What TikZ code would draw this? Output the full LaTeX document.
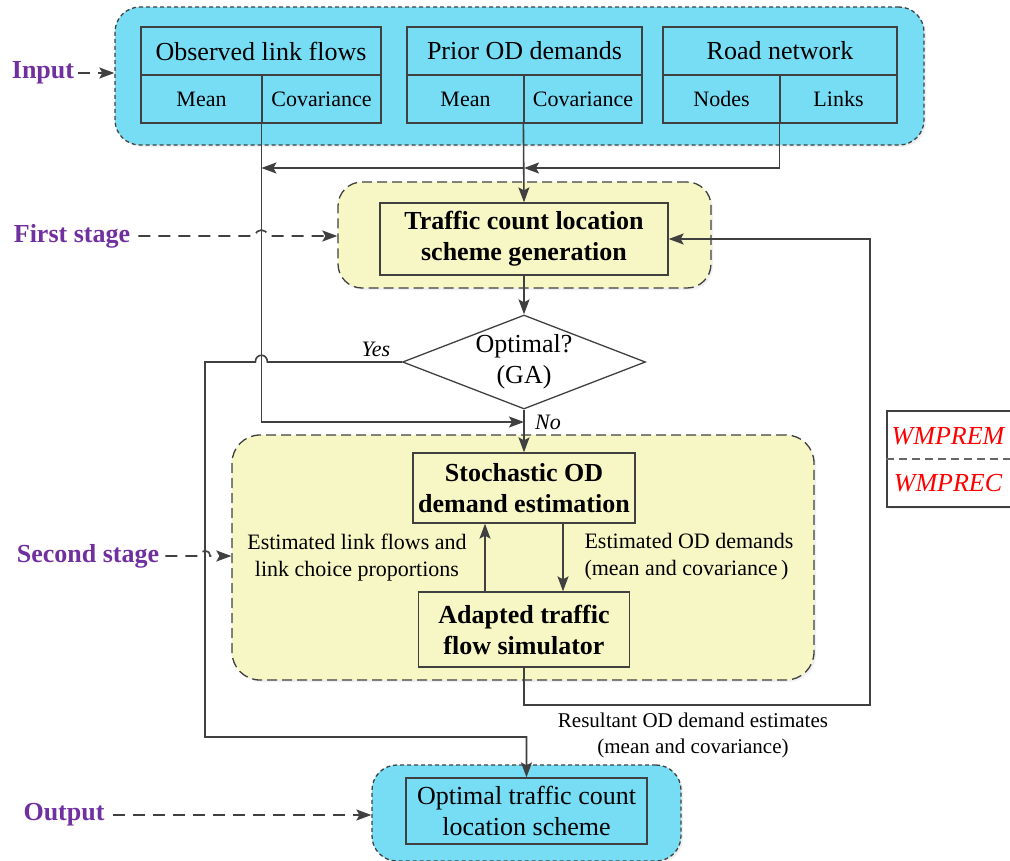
\documentclass[tikz,border=0pt]{standalone}
\usepackage{fontspec}
\setmainfont{Liberation Serif}
\usetikzlibrary{shapes.geometric,arrows.meta,calc,shadows}
\definecolor{cy}{RGB}{118,221,245}
\definecolor{yl}{RGB}{247,247,198}
\definecolor{pu}{RGB}{112,48,160}
\definecolor{ln}{RGB}{64,64,64}
\definecolor{rd}{RGB}{255,0,0}
\tikzset{
  tip/.style={-{Stealth[length=15pt,width=11pt,inset=3pt]}},
  con/.style={draw=ln,line width=1.6pt},
  arr/.style={con,tip},
  dasharr/.style={draw=ln,line width=1.6pt,dash pattern=on 12pt off 8pt,tip},
  shd/.style={drop shadow={shadow xshift=2pt,shadow yshift=-2pt,opacity=0.12}},
  grp/.style={draw=ln,line width=1.3pt,inner sep=0pt,shd},
  cell/.style={draw=ln,line width=1.2pt,fill=cy,inner sep=0pt,minimum height=48},
  big/.style={font=\fontsize{26}{31}\selectfont},
  small/.style={font=\fontsize{22}{27}\selectfont},
  bbox/.style={draw=ln,line width=1.3pt,fill=yl,inner sep=0pt,align=center,font=\fontsize{26}{31}\selectfont\bfseries},
  lab/.style={text=pu,font=\fontsize{26}{31}\selectfont\bfseries,inner sep=0pt},
  dia/.style={diamond,draw=ln,line width=1.3pt,fill=white,inner sep=0pt,minimum width=243,minimum height=94},
  leg/.style={text=rd,font=\fontsize{26}{31}\selectfont\itshape}
}
\begin{document}
\begin{tikzpicture}[x=1pt,y=-1pt]
\useasboundingbox (0,0) rectangle (1010,860);

% group backgrounds
\node[grp,fill=cy,dash pattern=on 4pt off 3pt,minimum width=809,minimum height=138,rounded corners=25] (inbg) at (519.5,76) {};
\node[grp,fill=yl,dash pattern=on 10pt off 5pt,minimum width=373,minimum height=106,rounded corners=24] (fsbg) at (524.5,235) {};
\node[grp,fill=yl,dash pattern=on 10pt off 5pt,minimum width=582,minimum height=245,rounded corners=28] (ssbg) at (523,557.5) {};
\node[grp,fill=cy,dash pattern=on 4pt off 3pt,minimum width=309,minimum height=96,rounded corners=25] (outbg) at (526.5,813) {};

% input cells
\node[cell,big,minimum width=240] (olf) at (261,51) {Observed link flows};
\node[cell,small,minimum width=121] (olfm) at (201.5,99) {Mean};
\node[cell,small,minimum width=119] (olfc) at (321.5,99) {Covariance};
\node[cell,big,minimum width=235] (pd) at (524.5,51) {Prior OD demands};
\node[cell,small,minimum width=117] (pdm) at (465.5,99) {Mean};
\node[cell,small,minimum width=118] (pdc) at (583,99) {Covariance};
\node[cell,big,minimum width=234] (rn) at (780,51) {Road network};
\node[cell,small,minimum width=117] (rnn) at (721.5,99) {Nodes};
\node[cell,small,minimum width=117] (rnl) at (838.5,99) {Links};

% process boxes
\node[bbox,minimum width=288,minimum height=72] (tcl) at (524,239) {Traffic count location\\scheme generation};
\node[dia] (opt) at (524,362) {};
\node[big,align=center] (optt) at (opt.center) {Optimal?\\(GA)};
\node[bbox,minimum width=222,minimum height=70] (sode) at (524,488) {Stochastic OD\\demand estimation};
\node[bbox,minimum width=211,minimum height=75] (atfs) at (524,629.5) {Adapted traffic\\flow simulator};
\node[draw=ln,line width=1.3pt,fill=cy,inner sep=0pt,minimum width=241,minimum height=66,align=center,big] (out) at (526.5,811) {Optimal traffic count\\location scheme};

% side labels
\node[lab] (inlab) at (43,73) {Input};
\node[lab] (fslab) at (72,236) {First stage};
\node[lab] (sslab) at (88,556) {Second stage};
\node[lab] (outlab) at (64,815) {Output};

% text labels
\node[small,font=\fontsize{22}{27}\selectfont\itshape] (yes) at (376,349) {Yes};
\node[small,font=\fontsize{22}{27}\selectfont\itshape] (no) at (548,422) {No};
\node[small,align=center] (elf) at (357,558) {Estimated link flows and\\link choice proportions};
\node[small,align=left,anchor=west] (eod) at (581,557) {Estimated OD demands\\(mean and covariance\,)};
\node[font=\fontsize{21}{26}\selectfont,align=center] (res) at (693,735) {Resultant OD demand estimates\\(mean and covariance)};

% legend
\node[draw=ln,line width=1.5pt,fill=white,inner sep=0pt,minimum width=130,minimum height=96,shd] (lg) at (952,459) {};
\draw[draw=ln!80,line width=1.3pt,dash pattern=on 8pt off 5pt] (lg.west) -- (lg.east);
\node[leg] (l1) at (948,436) {WMPREM};
\node[leg] (l2) at (948,483) {WMPREC};

% coordinates
\coordinate (rj) at (524,168);
\coordinate (nj) at (524,422);
\coordinate (yc) at (205,737);
\coordinate (fb) at (870,705);

% connectors
\draw[arr] (pdc.south west) -- (tcl.north);
\draw[arr] (rnl.south west) |- (rj);
\draw[arr] (rj) -- (rj -| olfc.south west);
\draw[arr] (olfc.south west) |- (nj);
\draw[arr] (tcl.south) -- (opt.north);
\draw[arr] (opt.south) -- (sode.north);
\draw[arr] (atfs.north -| 485,0) -- (sode.south -| 485,0);
\draw[arr] (sode.south -| 563,0) -- (atfs.north -| 563,0);
\draw[arr] (atfs.south) |- (fb) |- (tcl.east);
\draw[arr] (opt.west)
  -- ($(opt.west -| olfc.south west)+(6,0)$)
  .. controls +(0,-9) and +(0,-9) .. ($(opt.west -| olfc.south west)+(-6,0)$)
  -- (opt.west -| yc) -- (yc) -| (out.north);

% dashed label arrows
\draw[dasharr] (inlab.east) ++(4,0) -- (inlab.east -| inbg.west);
\draw[dasharr] (fslab.east) ++(8,0)
  -- ($(fslab.east -| olfc.south west)+(-6,0)$)
  .. controls +(0,-8) and +(0,-8) .. ($(fslab.east -| olfc.south west)+(6,0)$)
  -- (fslab.east -| fsbg.west);
\draw[dasharr] (sslab.east) ++(6,0)
  -- ($(sslab.east -| yc)+(-5,0)$)
  .. controls +(0,-7) and +(0,-7) .. ($(sslab.east -| yc)+(5,0)$)
  -- (sslab.east -| ssbg.west);
\draw[dasharr] (outlab.east) ++(8,0) -- (outlab.east -| outbg.west);
\end{tikzpicture}
\end{document}
